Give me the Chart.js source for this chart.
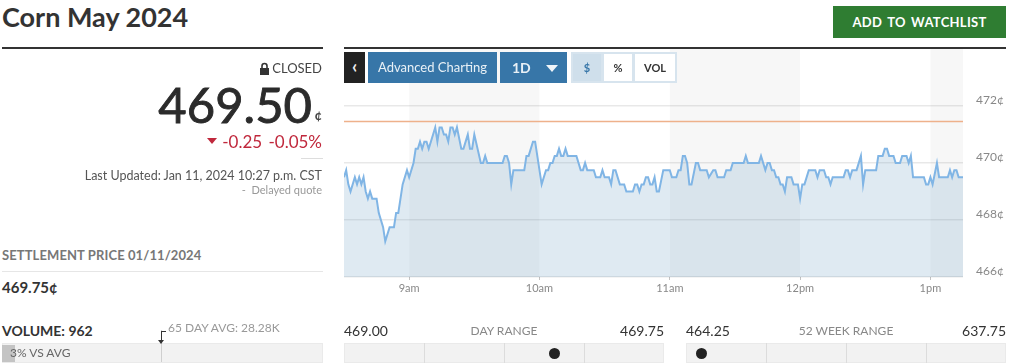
<!DOCTYPE html>
<html>
<head>
<meta charset="utf-8">
<title>Corn May 2024</title>
<script src="https://cdn.jsdelivr.net/npm/chart.js@4"></script>
<style>
html, body { margin: 0; padding: 0; background: #fff; }
body { width: 1024px; height: 364px; overflow: hidden; position: relative; font-family: Lato, sans-serif; color: #333; }
.abs { position: absolute; white-space: nowrap; line-height: 1; }
.rule { position: absolute; background: #333; height: 2px; }
.btn { position: absolute; top: 52px; height: 31px; line-height: 31px; text-align: center; box-sizing: border-box; font-size: 13px; }
.blue { background: #3776a8; color: #e8f0f6; }
.toggle { border: 2px solid #d7e4ee; line-height: 27px; font-size: 11px; font-weight: 700; background: #fff; color: #333; }
.bar { position: absolute; top: 343px; height: 20px; background: #f2f2f2; box-sizing: border-box; border: 1px solid #eaeaea; }
.div { position: absolute; top: 343px; height: 20px; width: 1px; background: #dcdcdc; }
.dot { position: absolute; top: 348px; width: 11px; height: 11px; border-radius: 50%; background: #222; }
#chartBox { position: absolute; left: 344px; top: 0; width: 680px; height: 364px; }
</style>
</head>
<body>
<div class="abs" style="left:2px;top:3px;font-size:27px;font-weight:700;color:#333">Corn May 2024</div>
<div class="abs" style="left:833px;top:6px;width:173px;height:32px;line-height:33px;background:#2f7d32;color:#fff;text-align:center;font-size:13px;font-weight:700;letter-spacing:.3px;word-spacing:2px">ADD TO WATCHLIST</div>
<div class="rule" style="left:2px;top:47px;width:321px"></div>

<div id="chartBox"><canvas id="priceChart"></canvas></div>
<div class="rule" style="left:344px;top:47px;width:662px"></div>

<div class="btn" style="left:344px;width:21px;background:#222;color:#eee;font-weight:700;font-size:18px;line-height:28px">&lsaquo;</div>
<div class="btn blue" style="left:368px;width:129px">Advanced Charting</div>
<div class="btn blue" style="left:500px;width:67px;font-weight:700;font-size:14px;text-align:left;padding-left:12px">1D</div>
<div class="abs" style="left:546px;top:65px;width:0;height:0;border-left:6px solid transparent;border-right:6px solid transparent;border-top:7px solid #f0f5f9"></div>
<div class="btn toggle" style="left:571px;width:32px;background:#cfdfeb;color:#3776a8">$</div>
<div class="btn toggle" style="left:602px;width:32px">%</div>
<div class="btn toggle" style="left:633px;width:44px">VOL</div>

<svg class="abs" style="left:259px;top:62px" width="11" height="13" viewBox="0 0 11 13"><path d="M1 6h9v7H1z" fill="#333"/><path d="M3 6V4a2.5 2.5 0 0 1 5 0v2" fill="none" stroke="#333" stroke-width="1.6"/></svg>
<div class="abs" style="right:702px;top:62px;font-size:13px;color:#444">CLOSED</div>
<div class="abs" style="right:712px;top:80px;font-size:49px;font-weight:400;color:#2b2b2b;-webkit-text-stroke:.9px #2b2b2b">469.50</div>
<div class="abs" style="right:702px;top:109px;font-size:13px;font-weight:700;color:#444">&cent;</div>
<div class="abs" style="left:207px;top:138px;width:0;height:0;border-left:5px solid transparent;border-right:5px solid transparent;border-top:6px solid #c0283c"></div>
<div class="abs" style="right:702px;top:133px;font-size:17px;color:#c0283c;word-spacing:2px">-0.25 -0.05%</div>
<div class="abs" style="left:301px;top:158px;width:22px;height:1px;background:#ddd"></div>
<div class="abs" style="right:702px;top:170px;font-size:12.5px;color:#555">Last Updated: Jan 11, 2024 10:27 p.m. CST</div>
<div class="abs" style="right:702px;top:184px;font-size:11px;color:#999">-&nbsp; Delayed quote</div>

<div class="abs" style="left:2px;top:249px;font-size:13px;font-weight:700;color:#777;letter-spacing:.1px">SETTLEMENT PRICE 01/11/2024</div>
<div class="abs" style="left:2px;top:271px;width:321px;height:1px;background:#e6e6e6"></div>
<div class="abs" style="left:2px;top:280px;font-size:15px;font-weight:700;color:#333">469.75&cent;</div>
<div class="abs" style="left:2px;top:324px;font-size:14px;font-weight:700;color:#333">VOLUME: 962</div>
<div class="abs" style="left:168px;top:322px;font-size:12px;color:#999">65 DAY AVG: 28.28K</div>
<div class="bar" style="left:2px;width:321px"></div>
<div class="abs" style="left:2px;top:345px;width:13px;height:17px;background:#c4c4c4"></div>
<div class="abs" style="left:10px;top:347px;font-size:12px;color:#666">3% VS AVG</div>
<div class="abs" style="left:161px;top:330px;width:1px;height:32px;background:#cfcfcf"></div>
<div class="abs" style="left:161px;top:331px;width:5px;height:1px;background:#333"></div>
<div class="abs" style="left:161px;top:331px;width:1px;height:10px;background:#333"></div>
<div class="abs" style="left:158px;top:340px;width:0;height:0;border-left:3px solid transparent;border-right:3px solid transparent;border-top:4px solid #333"></div>

<div class="abs" style="left:344px;top:324px;font-size:14px;color:#333">469.00</div>
<div class="abs" style="left:344px;width:320px;text-align:center;top:325px;font-size:12px;color:#888">DAY RANGE</div>
<div class="abs" style="right:360px;top:324px;font-size:14px;color:#333">469.75</div>
<div class="bar" style="left:344px;width:320px"></div>
<div class="div" style="left:424px"></div><div class="div" style="left:504px"></div><div class="div" style="left:584px"></div>
<div class="dot" style="left:549px"></div>

<div class="abs" style="left:686px;top:324px;font-size:14px;color:#333">464.25</div>
<div class="abs" style="left:686px;width:320px;text-align:center;top:325px;font-size:12px;color:#888">52 WEEK RANGE</div>
<div class="abs" style="right:18px;top:324px;font-size:14px;color:#333">637.75</div>
<div class="bar" style="left:686px;width:320px"></div>
<div class="div" style="left:766px"></div><div class="div" style="left:846px"></div><div class="div" style="left:926px"></div>
<div class="dot" style="left:696px"></div>

<script>
// Price data. Minutes count from 8:30am, rows line up.
const minutes = [
    0,1,2,3,5,6,7,8,9,10,11,12,13,15,16,18,19,21,23,24,25,27,29,30,32,33,34,35,36,37,38,39,
    42,43,44,45,46,47,48,49,50,51,52,54,55,56,57,58,59,60,63,64,65,66,73,74,75,76,77,78,83,84,85,87,88,
    91,93,94,95,96,97,98,99,100,101,102,103,107,109,110,111,112,115,116,118,119,120,122,123,124,125,127,129,
    130,133,134,135,136,137,138,139,140,141,142,143,144,145,147,150,151,153,154,155,156,157,158,159,160,
    162,163,164,167,168,170,171,172,175,176,178,179,184,185,186,191,192,194,195,196,197,198,199,200,201,202,203,204,206,207,209,
    210,211,212,214,217,218,219,221,222,223,224,225,230,231,232,233,234,236,238,239,240,245,246,248,249,250,251,253,254,256,257,259,
    260,261,262,267,268,269,270,271,273,274,278,279,280,281,282,283,285
];
const prices = [
    469.5,469.75,469.25,469,469.5,469.25,469.5,469.25,469.5,469,468.75,469,468.75,468.75,468.25,467.75,467.25,467.75,467.75,468.25,468.25,469.25,469.75,469.5,470,470.5,470.5,470.75,470.5,470.75,470.75,470.5,
    471.25,470.75,471.25,471.25,471,471,470.75,471.25,471.25,471,471.25,470.5,470.5,470.75,471,470.5,470.5,471,470,470,470.25,470,470,470.25,470.25,470,469.25,469.75,469.75,470.25,470.25,470.75,470.75,
    469.25,469.75,469.75,470,470,470.25,470.25,470.5,470.25,470.25,470.5,470.25,470.25,469.75,469.75,470,469.75,469.75,469.5,469.5,469.75,469.5,469.5,469.25,469.75,469.75,469.25,469.25,
    469,469,469.25,469.25,469,469.25,469.25,469.5,469.5,469.25,469.25,469.5,469,469,469.75,469.75,469.5,469.5,469.75,469.75,470.25,470.25,470,469.25,469.25,
    470,470,469.75,469.75,469.5,469.75,469.75,469.5,469.5,469.75,469.75,470,470,470.25,470,470,470.25,469.75,470,470,469.75,469.75,469.5,469.5,469.25,469.25,469,469.5,469.5,469.25,469.25,
    468.75,469.25,469.25,469.75,469.75,469.5,469.75,469.75,469.5,469.5,469.25,469.5,469.5,469.75,469.75,469.5,469.75,469.75,470.25,469.25,469.75,469.75,470.25,470.25,470.5,470.5,470.25,470.25,470,470,470.25,470.25,
    470,470.25,469.5,469.5,469.25,469.25,469.5,469.25,470,469.5,469.5,469.75,469.5,469.75,469.75,469.5,469.5
];

// Reference line and the axes
const referenceLine = 471.46;
const xMin = 0;
const xMax = 285;
const yMin = 466;
const yMax = 474;
const tickMinutes = [30, 90, 150, 210, 270];
const tickLabels = ['9am', '10am', '11am', '12pm', '1pm'];
const yTicks = [466, 468, 470, 472];
const bandRanges = [[30, 90], [150, 210], [270, 285]];

// Grey bands behind the line, every other hour
const hourBands = {
    id: 'hourBands',
    beforeDatasetsDraw(chart) {
        const { ctx, chartArea, scales } = chart;
        ctx.save();
        ctx.fillStyle = 'rgba(0,0,0,0.032)';
        bandRanges.forEach(r => {
            const left = scales.x.getPixelForValue(r[0]);
            const right = scales.x.getPixelForValue(r[1]);
            ctx.fillRect(left, chartArea.top, right - left, chartArea.bottom - chartArea.top);
        });
        ctx.restore();
    }
};

const ctx = document.getElementById('priceChart').getContext('2d');
new Chart(ctx, {
    type: 'line',
    plugins: [hourBands],
    data: {
        datasets: [
            {
                label: 'Corn May 2024',
                data: minutes.map((m, i) => ({ x: m, y: prices[i] })),
                borderColor: '#80b5e5',
                borderWidth: 2,
                backgroundColor: 'rgba(96,150,190,0.2)',
                fill: 'start',
                pointRadius: 0,
                tension: 0,
                order: 2
            },
            {
                label: 'Reference',
                data: [{ x: xMin, y: referenceLine }, { x: xMax, y: referenceLine }],
                borderColor: '#eeb18b',
                borderWidth: 1.5,
                pointRadius: 0,
                fill: false,
                order: 1
            }
        ]
    },
    options: {
        responsive: true,
        maintainAspectRatio: false,
        animation: false,
        layout: { autoPadding: false, padding: { left: 0, right: 0, top: 49, bottom: 0 } },
        plugins: { legend: { display: false }, tooltip: { enabled: false }, title: { display: false } },
        scales: {
            x: {
                type: 'linear',
                min: xMin,
                max: xMax,
                afterBuildTicks: scale => { scale.ticks = tickMinutes.map(value => ({ value })); },
                afterFit: scale => { scale.height = 87; },
                grid: { drawOnChartArea: false, drawTicks: true, tickLength: 3, color: '#c4c4c4' },
                border: { display: false },
                ticks: {
                    autoSkip: false,
                    maxRotation: 0,
                    padding: 2,
                    color: '#888',
                    font: { family: 'Lato', size: 11 },
                    callback: value => tickLabels[tickMinutes.indexOf(value)]
                }
            },
            y: {
                position: 'right',
                min: yMin,
                max: yMax,
                afterBuildTicks: scale => { scale.ticks = yTicks.map(value => ({ value })); },
                afterFit: scale => { scale.width = 61; },
                grid: { color: 'rgba(0,0,0,0.09)', lineWidth: 1.5, drawTicks: false },
                border: { display: false },
                ticks: {
                    padding: 13,
                    color: '#888',
                    font: { family: 'Lato', size: 12, lineHeight: 1 },
                    // blank second line lifts the label above its grid line
                    callback: value => [value + '¢', '']
                }
            }
        }
    }
});
</script>
</body>
</html>
